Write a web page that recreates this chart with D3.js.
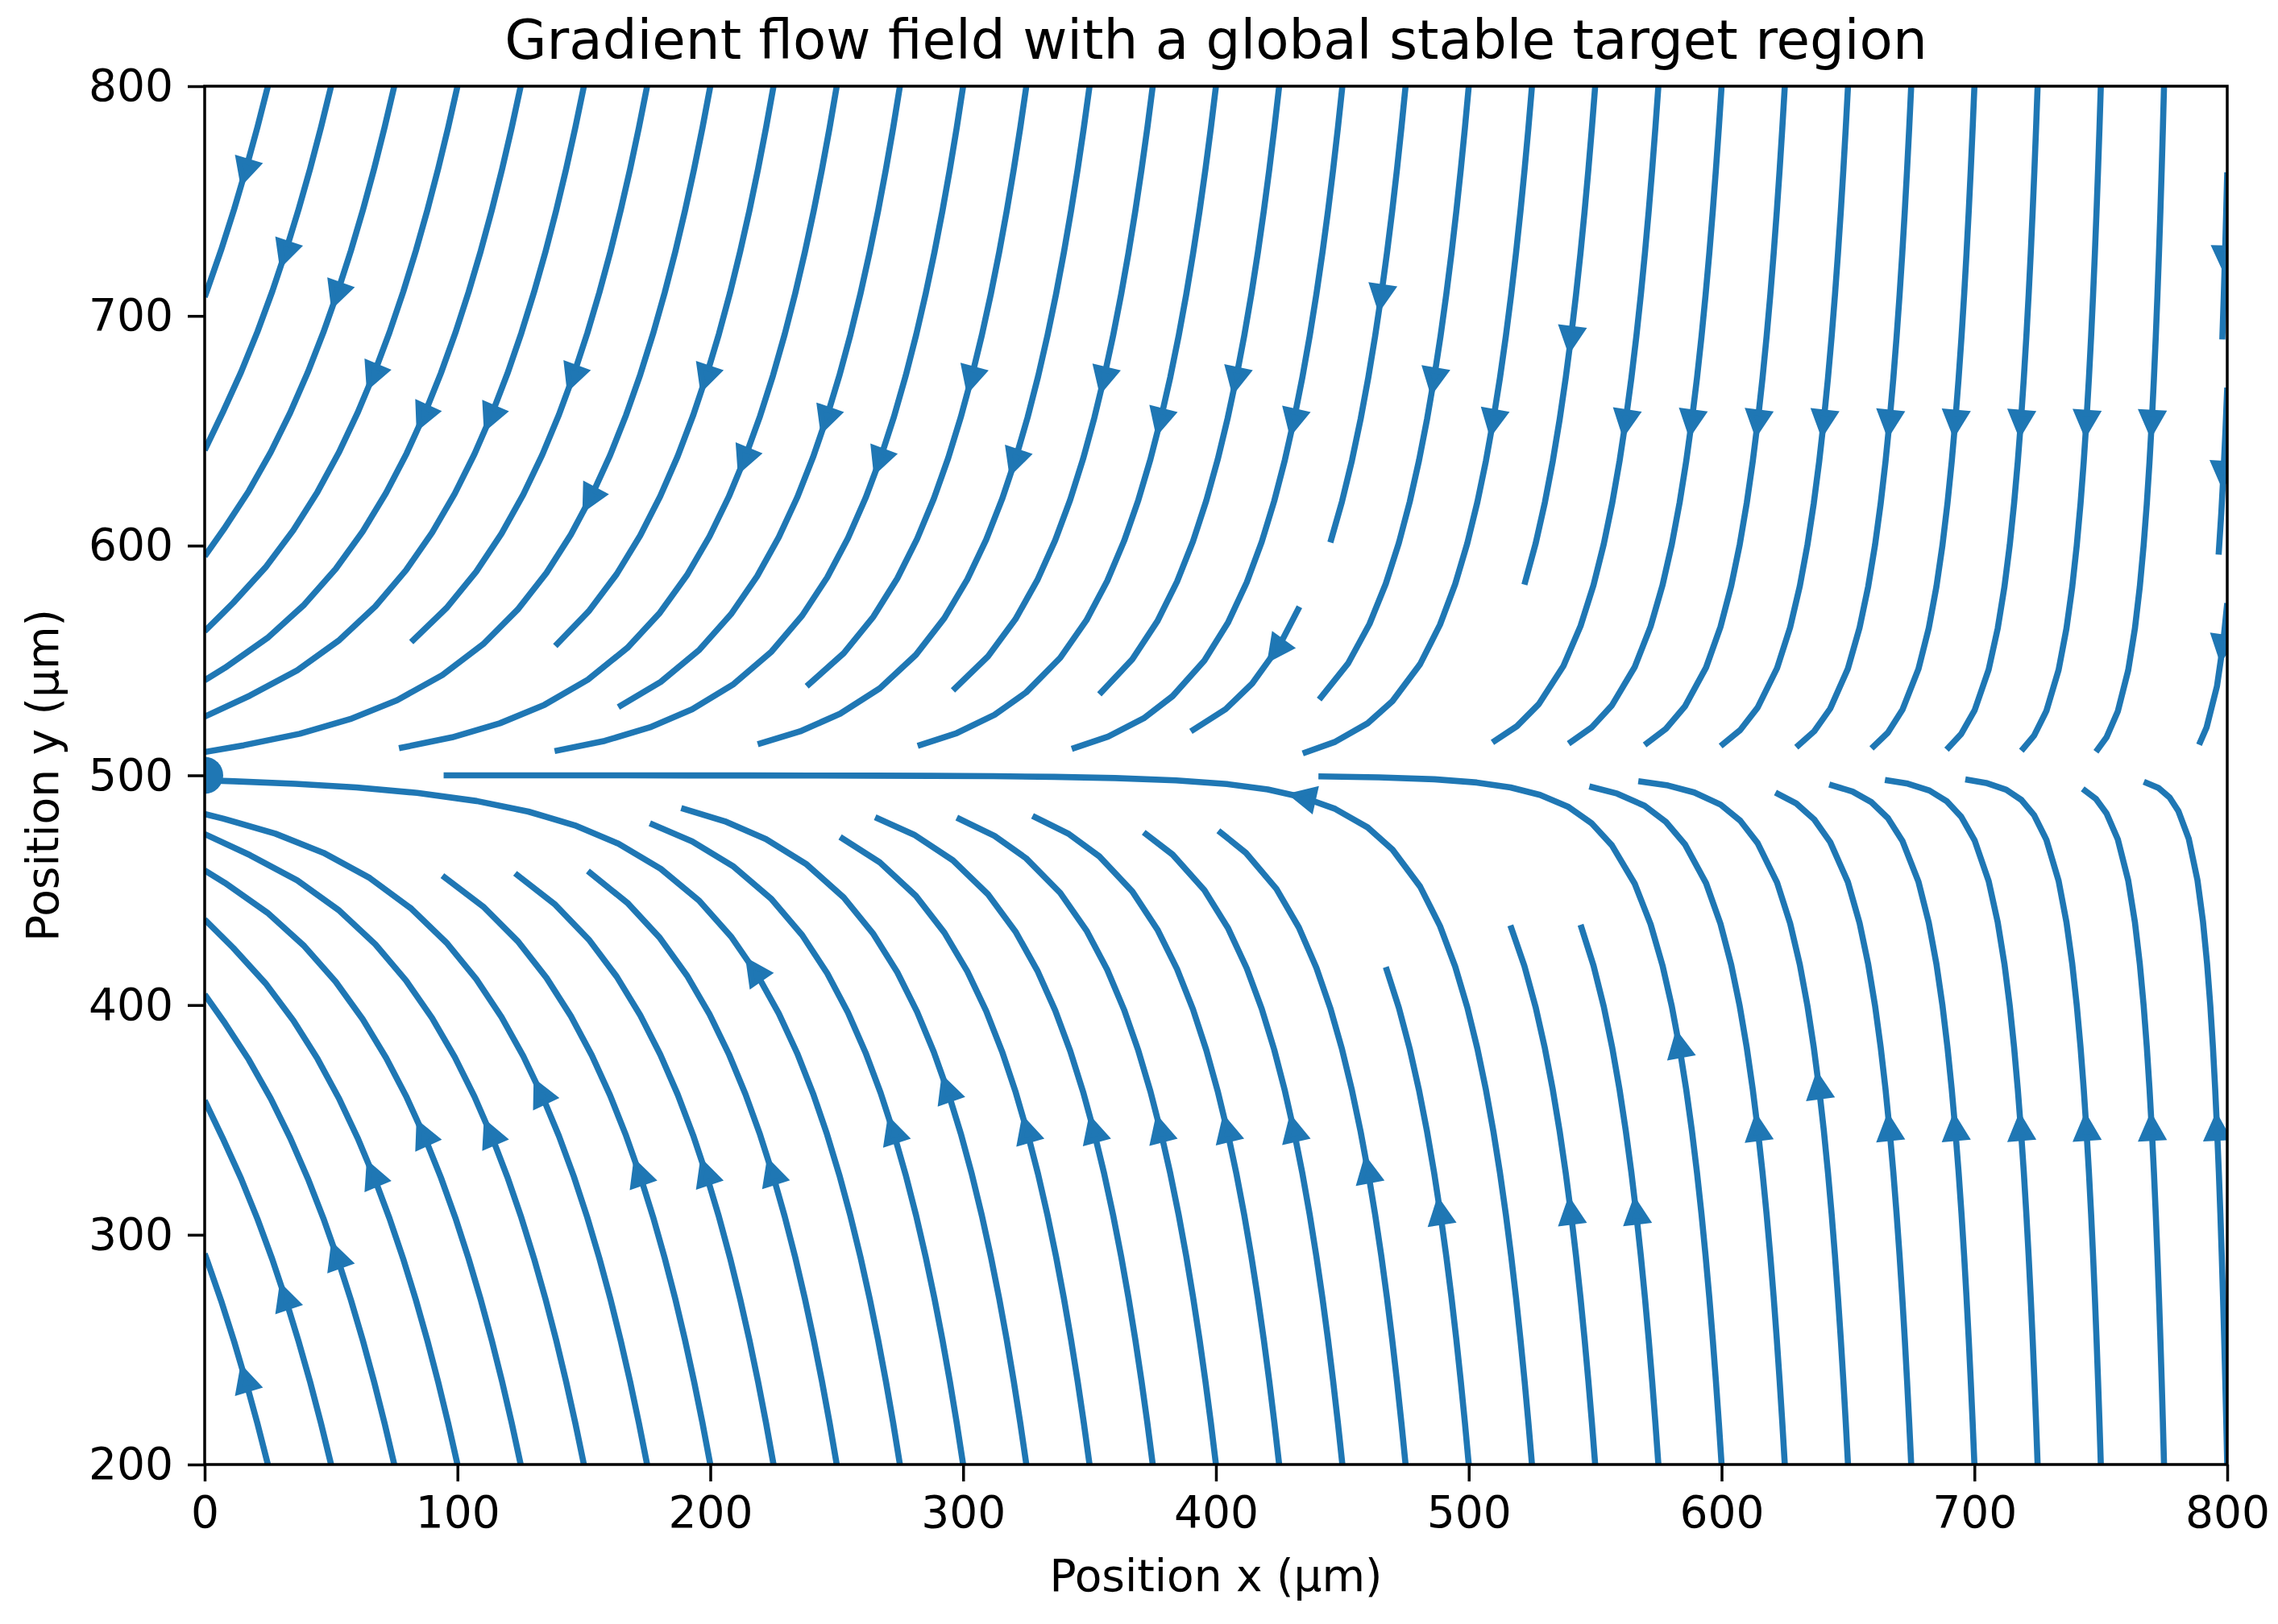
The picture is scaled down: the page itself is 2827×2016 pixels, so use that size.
<!DOCTYPE html>
<html lang="en">
<head>
<meta charset="UTF-8">
<title>Gradient flow field</title>
<script src="https://d3js.org/d3.v7.min.js"></script>
<style>
  html, body { margin: 0; padding: 0; background: #fff; }
  svg text { font-family: "DejaVu Sans", sans-serif; fill: #000; }
</style>
</head>
<body>
<div id="chart"></div>
<script>
  // axis ranges and ticks
  const xDomain = [0, 800];
  const yDomain = [200, 800];
  const xTicks = [0, 100, 200, 300, 400, 500, 600, 700, 800];
  const yTicks = [200, 300, 400, 500, 600, 700, 800];

  // target point (drawn as a dot) and the estimated gradient field around it
  const target = [0, 500];
  const fieldEdge = 992;   // horizontal pull fades out towards this x
  const fieldPower = 1.5;  // how fast it fades
  const fieldPull = 448;   // vertical pull towards y = 500
  const gridSize = 100;    // field sampled on a gridSize x gridSize mesh
  const density = 1.1;     // streamline density (30 * density mask cells)

  const W = 2827, H = 2016;
  const plot = { left: 254, right: 2764, top: 107, bottom: 1818 };
  const blue = "#1f77b4";

  const xScale = d3.scaleLinear().domain(xDomain).range([plot.left, plot.right]);
  const yScale = d3.scaleLinear().domain(yDomain).range([plot.bottom, plot.top]);

  function field(x, y) {
    return [-Math.pow(fieldEdge - x, fieldPower), -fieldPull * (y - target[1])];
  }

  // ---- streamline tracing, same scheme as a standard streamplot ----
  const NX = gridSize, NY = gridSize;
  const gx = d3.range(NX).map(i => xDomain[0] + i * (xDomain[1] - xDomain[0]) / (NX - 1));
  const gy = d3.range(NY).map(j => yDomain[0] + j * (yDomain[1] - yDomain[0]) / (NY - 1));
  const ddx = gx[1] - gx[0], ddy = gy[1] - gy[0];

  const U = [], V = [], S = [];
  for (let j = 0; j < NY; j++) {
    U.push([]); V.push([]); S.push([]);
    for (let i = 0; i < NX; i++) {
      const [fu, fv] = field(gx[i], gy[j]);
      const ug = fu / ddx, vg = fv / ddy;
      U[j].push(ug); V[j].push(vg);
      S[j].push(Math.hypot(ug / (NX - 1), vg / (NY - 1)));
    }
  }

  const MNX = Math.floor(30 * density), MNY = Math.floor(30 * density);
  const mask = d3.range(MNY).map(() => new Uint8Array(MNX));
  const xg2m = (MNX - 1) / (NX - 1), yg2m = (MNY - 1) / (NY - 1);
  let traj = [], cur = null;

  const OUT = "out", TERM = "term", INVALID = "invalid";

  function roundEven(v) {
    const f = Math.floor(v), r = v - f;
    if (r > 0.5) return f + 1;
    if (r < 0.5) return f;
    return f % 2 === 0 ? f : f + 1;
  }
  const within = (xi, yi) => xi >= 0 && xi <= NX - 1 && yi >= 0 && yi <= NY - 1;
  const g2m = (xi, yi) => [roundEven(xi * xg2m), roundEven(yi * yg2m)];

  function markCell(xm, ym) {
    if (!cur || cur[0] !== xm || cur[1] !== ym) {
      if (mask[ym][xm] === 0) {
        traj.push([ym, xm]);
        mask[ym][xm] = 1;
        cur = [xm, ym];
      } else {
        throw INVALID;
      }
    }
  }
  function startTraj(xg, yg) { traj = []; const [xm, ym] = g2m(xg, yg); markCell(xm, ym); }
  function updateTraj(xg, yg) {
    if (!within(xg, yg)) throw INVALID;
    const [xm, ym] = g2m(xg, yg);
    markCell(xm, ym);
  }
  function undoTraj() { traj.forEach(([ym, xm]) => { mask[ym][xm] = 0; }); }

  function interp(a, xi, yi) {
    const x = Math.floor(xi), y = Math.floor(yi);
    const xn = x === NX - 1 ? x : x + 1;
    const yn = y === NY - 1 ? y : y + 1;
    const xt = xi - x, yt = yi - y;
    const a0 = a[y][x] * (1 - xt) + a[y][xn] * xt;
    const a1 = a[yn][x] * (1 - xt) + a[yn][xn] * xt;
    return a0 * (1 - yt) + a1 * yt;
  }

  function forward(xi, yi) {
    if (!within(xi, yi)) throw OUT;
    const s = interp(S, xi, yi);
    if (s === 0) throw TERM;
    return [interp(U, xi, yi) / s, interp(V, xi, yi) / s];
  }
  function backward(xi, yi) {
    const [a, b] = forward(xi, yi);
    return [-a, -b];
  }

  function eulerToEdge(pts, f) {
    const [xi, yi] = pts[pts.length - 1];
    const [cx, cy] = f(xi, yi);
    const dsx = cx === 0 ? Infinity : (cx < 0 ? xi / -cx : (NX - 1 - xi) / cx);
    const dsy = cy === 0 ? Infinity : (cy < 0 ? yi / -cy : (NY - 1 - yi) / cy);
    const ds = Math.min(dsx, dsy);
    pts.push([xi + cx * ds, yi + cy * ds]);
    return ds;
  }

  const maxLength = 4.0, minLength = 0.1;

  function rk12(x0, y0, f) {
    const maxError = 0.003;
    const maxDs = Math.min(1 / MNX, 1 / MNY, 0.1);
    let ds = maxDs, total = 0, xi = x0, yi = y0;
    const pts = [];
    while (true) {
      let k1, k2;
      try {
        if (within(xi, yi)) pts.push([xi, yi]); else throw OUT;
        k1 = f(xi, yi);
        k2 = f(xi + ds * k1[0], yi + ds * k1[1]);
      } catch (e) {
        if (e === OUT) { if (pts.length) total += eulerToEdge(pts, f); break; }
        if (e === TERM) break;
        throw e;
      }
      const dx1 = ds * k1[0], dy1 = ds * k1[1];
      const dx2 = ds * 0.5 * (k1[0] + k2[0]), dy2 = ds * 0.5 * (k1[1] + k2[1]);
      const err = Math.hypot((dx2 - dx1) / (NX - 1), (dy2 - dy1) / (NY - 1));
      if (err < maxError) {
        xi += dx2; yi += dy2;
        try { updateTraj(xi, yi); } catch (e) { if (e === INVALID) break; throw e; }
        if (total + ds > maxLength) break;
        total += ds;
      }
      ds = err === 0 ? maxDs : Math.min(maxDs, 0.85 * ds * Math.sqrt(maxError / err));
    }
    return [total, pts];
  }

  function integrate(x0, y0) {
    try { startTraj(x0, y0); } catch (e) { if (e === INVALID) return null; throw e; }
    const [sb, back] = rk12(x0, y0, backward);
    cur = g2m(x0, y0);
    const [sf, fwd] = rk12(x0, y0, forward);
    if (sb + sf > minLength) return back.reverse().concat(fwd.slice(1));
    undoTraj();
    return null;
  }

  function* spiral(nx, ny) {
    let xfirst = 0, yfirst = 1, xlast = nx - 1, ylast = ny - 1, x = 0, y = 0, dir = "right";
    for (let i = 0; i < nx * ny; i++) {
      yield [x, y];
      if (dir === "right") { x++; if (x >= xlast) { xlast--; dir = "up"; } }
      else if (dir === "up") { y++; if (y >= ylast) { ylast--; dir = "left"; } }
      else if (dir === "left") { x--; if (x <= xfirst) { xfirst++; dir = "down"; } }
      else { y--; if (y <= yfirst) { yfirst++; dir = "right"; } }
    }
  }

  const streamlines = [];
  for (const [xm, ym] of spiral(MNX, MNY)) {
    if (mask[ym][xm] !== 0) continue;
    const t = integrate(xm / xg2m, ym / yg2m);
    if (t) streamlines.push(t.map(([a, b]) => [a * ddx + gx[0], b * ddy + gy[0]]));
  }

  // arrow half way along each line (by data length)
  const arrows = streamlines.map(line => {
    const s = [];
    let acc = 0;
    for (let i = 1; i < line.length; i++) {
      acc += Math.hypot(line[i][0] - line[i - 1][0], line[i][1] - line[i - 1][1]);
      s.push(acc);
    }
    const n = d3.bisectLeft(s, acc / 2);
    const tail = line[n];
    const head = n + 1 < line.length
      ? [(line[n][0] + line[n + 1][0]) / 2, (line[n][1] + line[n + 1][1]) / 2]
      : line[n];
    return { tail, head };
  });

  // ---- drawing ----
  const svg = d3.select("#chart").append("svg")
    .attr("width", W).attr("height", H)
    .attr("viewBox", `0 0 ${W} ${H}`);

  svg.append("rect").attr("width", W).attr("height", H).attr("fill", "#fff");

  svg.append("defs").append("clipPath").attr("id", "plotClip")
    .append("rect")
    .attr("x", plot.left).attr("y", plot.top)
    .attr("width", plot.right - plot.left).attr("height", plot.bottom - plot.top);

  const area = svg.append("g").attr("clip-path", "url(#plotClip)");

  const line = d3.line().x(d => xScale(d[0])).y(d => yScale(d[1]));

  area.selectAll("path.stream")
    .data(streamlines)
    .enter().append("path")
    .attr("class", "stream")
    .attr("d", line)
    .attr("fill", "none")
    .attr("stroke", blue)
    .attr("stroke-width", 7.6)
    .attr("stroke-linecap", "butt")
    .attr("stroke-linejoin", "round");

  const headLen = 24, headHalf = 12, shrink = 11;
  area.selectAll("path.arrow")
    .data(arrows)
    .enter().append("path")
    .attr("class", "arrow")
    .attr("d", a => {
      const tx = xScale(a.tail[0]), ty = yScale(a.tail[1]);
      const hx = xScale(a.head[0]), hy = yScale(a.head[1]);
      let dx = hx - tx, dy = hy - ty;
      const len = Math.hypot(dx, dy) || 1;
      dx /= len; dy /= len;
      const tipX = hx - dx * shrink, tipY = hy - dy * shrink;
      const bx = tipX - dx * headLen, by = tipY - dy * headLen;
      return `M${tipX},${tipY}L${bx - dy * headHalf},${by + dx * headHalf}` +
        `L${bx + dy * headHalf},${by - dx * headHalf}Z`;
    })
    .attr("fill", blue)
    .attr("stroke", blue)
    .attr("stroke-width", 7.6)
    .attr("stroke-linejoin", "miter");

  area.append("circle")
    .attr("cx", xScale(target[0]))
    .attr("cy", yScale(target[1]))
    .attr("r", 23)
    .attr("fill", blue);

  // axes
  const xAxis = d3.axisBottom(xScale).tickValues(xTicks).tickSize(21).tickPadding(18);
  const yAxis = d3.axisLeft(yScale).tickValues(yTicks).tickSize(21).tickPadding(18);

  const gxAxis = svg.append("g").attr("transform", `translate(0,${plot.bottom})`).call(xAxis);
  const gyAxis = svg.append("g").attr("transform", `translate(${plot.left},0)`).call(yAxis);

  [gxAxis, gyAxis].forEach(g => {
    g.select(".domain").remove();
    g.selectAll(".tick line").attr("stroke", "#000").attr("stroke-width", 3.5);
    g.selectAll(".tick text")
      .attr("fill", "#000")
      .style("font-family", "'DejaVu Sans', sans-serif")
      .style("font-size", "55px");
  });

  svg.append("rect")
    .attr("x", plot.left).attr("y", plot.top)
    .attr("width", plot.right - plot.left).attr("height", plot.bottom - plot.top)
    .attr("fill", "none").attr("stroke", "#000").attr("stroke-width", 3.5);

  svg.append("text")
    .attr("x", (plot.left + plot.right) / 2).attr("y", 73)
    .attr("text-anchor", "middle")
    .style("font-size", "67.5px")
    .text("Gradient flow field with a global stable target region");

  svg.append("text")
    .attr("x", (plot.left + plot.right) / 2).attr("y", 1975)
    .attr("text-anchor", "middle")
    .style("font-size", "55px")
    .text("Position x (µm)");

  svg.append("text")
    .attr("transform", `translate(72,${(plot.top + plot.bottom) / 2}) rotate(-90)`)
    .attr("text-anchor", "middle")
    .style("font-size", "55px")
    .text("Position y (µm)");
</script>
</body>
</html>
